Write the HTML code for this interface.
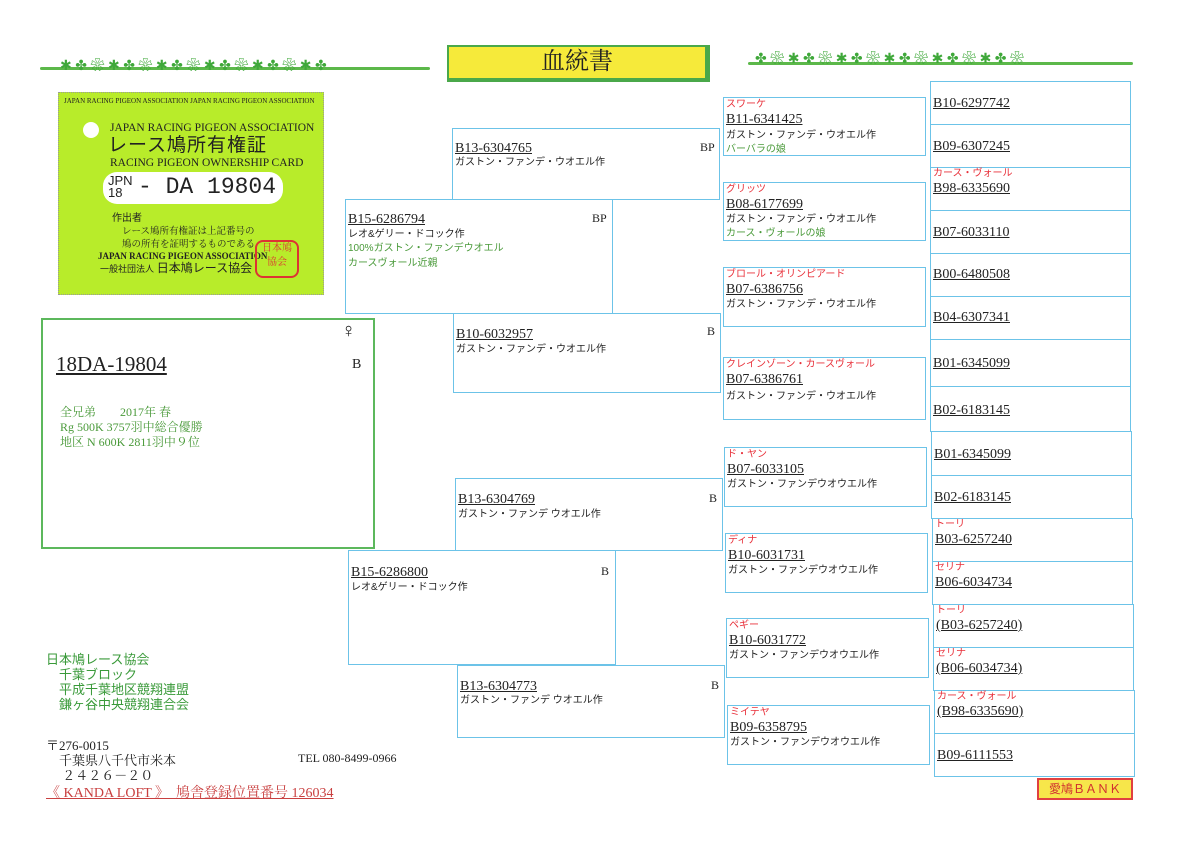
<!DOCTYPE html>
<html><head><meta charset="utf-8"><style>
body{margin:0;width:1200px;height:844px;background:#fff;position:relative;overflow:hidden;font-family:"Liberation Serif","Noto Serif CJK SC",serif;color:#222}
.b{position:absolute;border:1.5px solid #6cc3e8;box-sizing:border-box}
.t{position:absolute;white-space:nowrap;line-height:1.15}
.id{font-size:14px;text-decoration:underline;font-family:"Liberation Serif",serif}
.s{font-size:10px;font-family:"Liberation Sans","Noto Sans CJK JP",sans-serif}
.r{color:#e8303a;font-size:10px;font-family:"Liberation Sans","Noto Sans CJK JP",sans-serif}
.g{color:#4a9a3a;font-size:10px;font-family:"Liberation Sans","Noto Sans CJK JP",sans-serif}
.vine{position:absolute;height:3px;background:#5cb84a;border-radius:2px}
.leaf{position:absolute;color:#3fa83a;font-size:16px}
</style></head><body>
<div class="vine" style="left:40px;top:67px;width:390px"></div>
<div class="vine" style="left:748px;top:62px;width:385px"></div>
<div class="leaf" style="left:60px;top:55px;font-size:14px">✱ ✤ ❀ ✱ ✤ ❀ ✱ ✤ ❀ ✱ ✤ ❀ ✱ ✤ ❀ ✱ ✤</div>
<div class="leaf" style="left:755px;top:48px;font-size:14px">✤ ❀ ✱ ✤ ❀ ✱ ✤ ❀ ✱ ✤ ❀ ✱ ✤ ❀ ✱ ✤ ❀</div>
<div style="position:absolute;left:447px;top:45px;width:263px;height:37px;background:#f6ea3a;border:2px solid #4aa84a;box-sizing:border-box;border-right-width:5px;border-bottom-width:4px;text-align:center;font-size:24px;line-height:31px;font-family:'Liberation Serif','Noto Serif CJK SC',serif">血統書</div>
<div style="position:absolute;left:58px;top:92px;width:266px;height:203px;background:#b8ec2a;border:1px dotted #999;box-sizing:border-box"></div>
<div class="t" style="left:64px;top:97px;font-size:7px">JAPAN RACING PIGEON ASSOCIATION JAPAN RACING PIGEON ASSOCIATION</div>
<div style="position:absolute;left:83px;top:122px;width:16px;height:16px;border-radius:50%;background:#fff"></div>
<div class="t" style="left:110px;top:122px;font-size:11.5px">JAPAN RACING PIGEON ASSOCIATION</div>
<div class="t" style="left:108px;top:135px;font-size:19px;letter-spacing:1px;font-family:'Liberation Sans','Noto Sans CJK JP',sans-serif">レース鳩所有権証</div>
<div class="t" style="left:110px;top:157px;font-size:11.5px">RACING PIGEON OWNERSHIP CARD</div>
<div style="position:absolute;left:103px;top:172px;width:180px;height:32px;background:#fff;border-radius:14px"></div>
<div class="t" style="left:108px;top:175px;font-size:13px;line-height:12px;font-family:'Liberation Sans',sans-serif">JPN<br>18</div>
<div class="t" style="left:138px;top:174px;font-size:23px;font-family:'Liberation Mono',monospace">- DA 19804</div>
<div class="t" style="left:112px;top:211px;font-size:10px;font-family:'Noto Sans CJK JP',sans-serif">作出者</div>
<div class="t" style="left:122px;top:224px;font-size:9.5px;line-height:13px;font-family:'Noto Serif CJK SC',serif">レース鳩所有権証は上記番号の<br>鳩の所有を証明するものである</div>
<div class="t" style="left:98px;top:251px;font-size:9px;font-weight:bold">JAPAN RACING PIGEON ASSOCIATION</div>
<div class="t" style="left:100px;top:261px;font-size:12px;font-family:'Noto Sans CJK JP',sans-serif"><span style="font-size:9px">一般社団法人</span> 日本鳩レース協会</div>
<div style="position:absolute;left:255px;top:240px;width:40px;height:34px;border:2px solid #d33;border-radius:8px;color:#d33;font-size:10px;text-align:center;line-height:14px">日本鳩<br>協会</div>
<div style="position:absolute;left:41px;top:318px;width:334px;height:231px;border:2px solid #5cb85c;box-sizing:border-box"></div>
<div class="t" style="left:341px;top:320px;font-size:20px">♀</div>
<div class="t" style="left:56px;top:352px;font-size:21px;text-decoration:underline">18DA-19804</div>
<div class="t" style="left:352px;top:357px;font-size:14px">B</div>
<div class="t" style="left:60px;top:405px;font-size:12px;line-height:15px;color:#4a9a3a;font-family:'Liberation Serif','Noto Serif CJK SC',serif">全兄弟　　2017年 春<br>Rg 500K 3757羽中総合優勝<br>地区 N 600K 2811羽中９位</div>
<div class="b" style="left:345px;top:199px;width:268px;height:115px"></div>
<div class="t id" style="left:348px;top:212px">B15-6286794</div><div class="t" style="left:592px;top:212px;font-size:12px">BP</div>
<div class="t s" style="left:348px;top:229px">レオ&amp;ゲリー・ドコック作</div>
<div class="t g" style="left:348px;top:243px">100%ガストン・ファンデウオエル</div>
<div class="t g" style="left:348px;top:258px">カースヴォール近親</div>
<div class="b" style="left:348px;top:550px;width:268px;height:115px"></div>
<div class="t id" style="left:351px;top:565px">B15-6286800</div><div class="t" style="left:601px;top:565px;font-size:12px">B</div>
<div class="t s" style="left:351px;top:582px">レオ&amp;ゲリー・ドコック作</div>
<div class="b" style="left:452px;top:128px;width:268px;height:72px"></div>
<div class="t id" style="left:455px;top:141px">B13-6304765</div><div class="t" style="left:700px;top:141px;font-size:12px">BP</div>
<div class="t s" style="left:455px;top:157px">ガストン・ファンデ・ウオエル作</div>
<div class="b" style="left:453px;top:313px;width:268px;height:80px"></div>
<div class="t id" style="left:456px;top:327px">B10-6032957</div><div class="t" style="left:707px;top:325px;font-size:12px">B</div>
<div class="t s" style="left:456px;top:344px">ガストン・ファンデ・ウオエル作</div>
<div class="b" style="left:455px;top:478px;width:268px;height:73px"></div>
<div class="t id" style="left:458px;top:492px">B13-6304769</div><div class="t" style="left:709px;top:492px;font-size:12px">B</div>
<div class="t s" style="left:458px;top:509px">ガストン・ファンデ ウオエル作</div>
<div class="b" style="left:457px;top:665px;width:268px;height:73px"></div>
<div class="t id" style="left:460px;top:679px">B13-6304773</div><div class="t" style="left:711px;top:679px;font-size:12px">B</div>
<div class="t s" style="left:460px;top:695px">ガストン・ファンデ ウオエル作</div>
<div class="b" style="left:723px;top:97px;width:203px;height:59px"></div>
<div class="t r" style="left:726px;top:99px">スワーケ</div><div class="t id" style="left:726px;top:112px">B11-6341425</div>
<div class="t s" style="left:726px;top:130px">ガストン・ファンデ・ウオエル作</div><div class="t g" style="left:726px;top:144px">バーバラの娘</div>
<div class="b" style="left:723px;top:182px;width:203px;height:59px"></div>
<div class="t r" style="left:726px;top:184px">グリッツ</div><div class="t id" style="left:726px;top:197px">B08-6177699</div>
<div class="t s" style="left:726px;top:214px">ガストン・ファンデ・ウオエル作</div><div class="t g" style="left:726px;top:228px">カース・ヴォールの娘</div>
<div class="b" style="left:723px;top:267px;width:203px;height:60px"></div>
<div class="t r" style="left:726px;top:269px">ブロール・オリンピアード</div><div class="t id" style="left:726px;top:282px">B07-6386756</div>
<div class="t s" style="left:726px;top:299px">ガストン・ファンデ・ウオエル作</div>
<div class="b" style="left:723px;top:357px;width:203px;height:63px"></div>
<div class="t r" style="left:726px;top:359px">クレインゾーン・カースヴォール</div><div class="t id" style="left:726px;top:372px">B07-6386761</div>
<div class="t s" style="left:726px;top:391px">ガストン・ファンデ・ウオエル作</div>
<div class="b" style="left:724px;top:447px;width:203px;height:60px"></div>
<div class="t r" style="left:727px;top:449px">ド・ヤン</div><div class="t id" style="left:727px;top:462px">B07-6033105</div>
<div class="t s" style="left:727px;top:479px">ガストン・ファンデウオウエル作</div>
<div class="b" style="left:725px;top:533px;width:203px;height:60px"></div>
<div class="t r" style="left:728px;top:535px">ディナ</div><div class="t id" style="left:728px;top:548px">B10-6031731</div>
<div class="t s" style="left:728px;top:565px">ガストン・ファンデウオウエル作</div>
<div class="b" style="left:726px;top:618px;width:203px;height:60px"></div>
<div class="t r" style="left:729px;top:620px">ペギー</div><div class="t id" style="left:729px;top:633px">B10-6031772</div>
<div class="t s" style="left:729px;top:650px">ガストン・ファンデウオウエル作</div>
<div class="b" style="left:727px;top:705px;width:203px;height:60px"></div>
<div class="t r" style="left:730px;top:707px">ミイテヤ</div><div class="t id" style="left:730px;top:720px">B09-6358795</div>
<div class="t s" style="left:730px;top:737px">ガストン・ファンデウオウエル作</div>
<div class="b" style="left:930px;top:81px;width:201px;height:44px"></div><div class="t id" style="left:933px;top:96px">B10-6297742</div>
<div class="b" style="left:930px;top:124px;width:201px;height:44px"></div><div class="t id" style="left:933px;top:139px">B09-6307245</div>
<div class="b" style="left:930px;top:167px;width:201px;height:44px"></div><div class="t r" style="left:933px;top:168px">カース・ヴォール</div><div class="t id" style="left:933px;top:181px">B98-6335690</div>
<div class="b" style="left:930px;top:210px;width:201px;height:44px"></div><div class="t id" style="left:933px;top:225px">B07-6033110</div>
<div class="b" style="left:930px;top:253px;width:201px;height:44px"></div><div class="t id" style="left:933px;top:267px">B00-6480508</div>
<div class="b" style="left:930px;top:296px;width:201px;height:44px"></div><div class="t id" style="left:933px;top:310px">B04-6307341</div>
<div class="b" style="left:930px;top:339px;width:201px;height:48px"></div><div class="t id" style="left:933px;top:356px">B01-6345099</div>
<div class="b" style="left:930px;top:386px;width:201px;height:46px"></div><div class="t id" style="left:933px;top:403px">B02-6183145</div>
<div class="b" style="left:931px;top:431px;width:201px;height:45px"></div><div class="t id" style="left:934px;top:447px">B01-6345099</div>
<div class="b" style="left:931px;top:475px;width:201px;height:44px"></div><div class="t id" style="left:934px;top:490px">B02-6183145</div>
<div class="b" style="left:932px;top:518px;width:201px;height:44px"></div><div class="t r" style="left:935px;top:519px">トーリ</div><div class="t id" style="left:935px;top:532px">B03-6257240</div>
<div class="b" style="left:932px;top:561px;width:201px;height:44px"></div><div class="t r" style="left:935px;top:562px">セリナ</div><div class="t id" style="left:935px;top:575px">B06-6034734</div>
<div class="b" style="left:933px;top:604px;width:201px;height:44px"></div><div class="t r" style="left:936px;top:605px">トーリ</div><div class="t id" style="left:936px;top:618px">(B03-6257240)</div>
<div class="b" style="left:933px;top:647px;width:201px;height:44px"></div><div class="t r" style="left:936px;top:648px">セリナ</div><div class="t id" style="left:936px;top:661px">(B06-6034734)</div>
<div class="b" style="left:934px;top:690px;width:201px;height:44px"></div><div class="t r" style="left:937px;top:691px">カース・ヴォール</div><div class="t id" style="left:937px;top:704px">(B98-6335690)</div>
<div class="b" style="left:934px;top:733px;width:201px;height:44px"></div><div class="t id" style="left:937px;top:748px">B09-6111553</div>
<div class="t" style="left:46px;top:652px;font-size:13px;line-height:15px;color:#3a9a3a;font-family:'Liberation Sans','Noto Sans CJK JP',sans-serif">日本鳩レース協会<br>　千葉ブロック<br>　平成千葉地区競翔連盟<br>　鎌ヶ谷中央競翔連合会</div>
<div class="t" style="left:46px;top:738px;font-size:13px;line-height:15px;font-family:'Liberation Serif','Noto Serif CJK SC',serif">〒276-0015<br>　千葉県八千代市米本<br>　 ２４２６－２０</div>
<div class="t" style="left:298px;top:752px;font-size:12px">TEL 080-8499-0966</div>
<div class="t" style="left:46px;top:786px;font-size:14px;color:#c94040;text-decoration:underline;font-family:'Liberation Serif','Noto Serif CJK SC',serif">《 KANDA LOFT 》　鳩舎登録位置番号 126034</div>
<div style="position:absolute;left:1037px;top:778px;width:96px;height:22px;background:#f7e64a;border:2px solid #e04040;box-sizing:border-box;color:#d03030;font-size:12px;text-align:center;line-height:18px;font-family:'Liberation Sans','Noto Sans CJK JP',sans-serif">愛鳩ＢＡＮＫ</div>
</body></html>
